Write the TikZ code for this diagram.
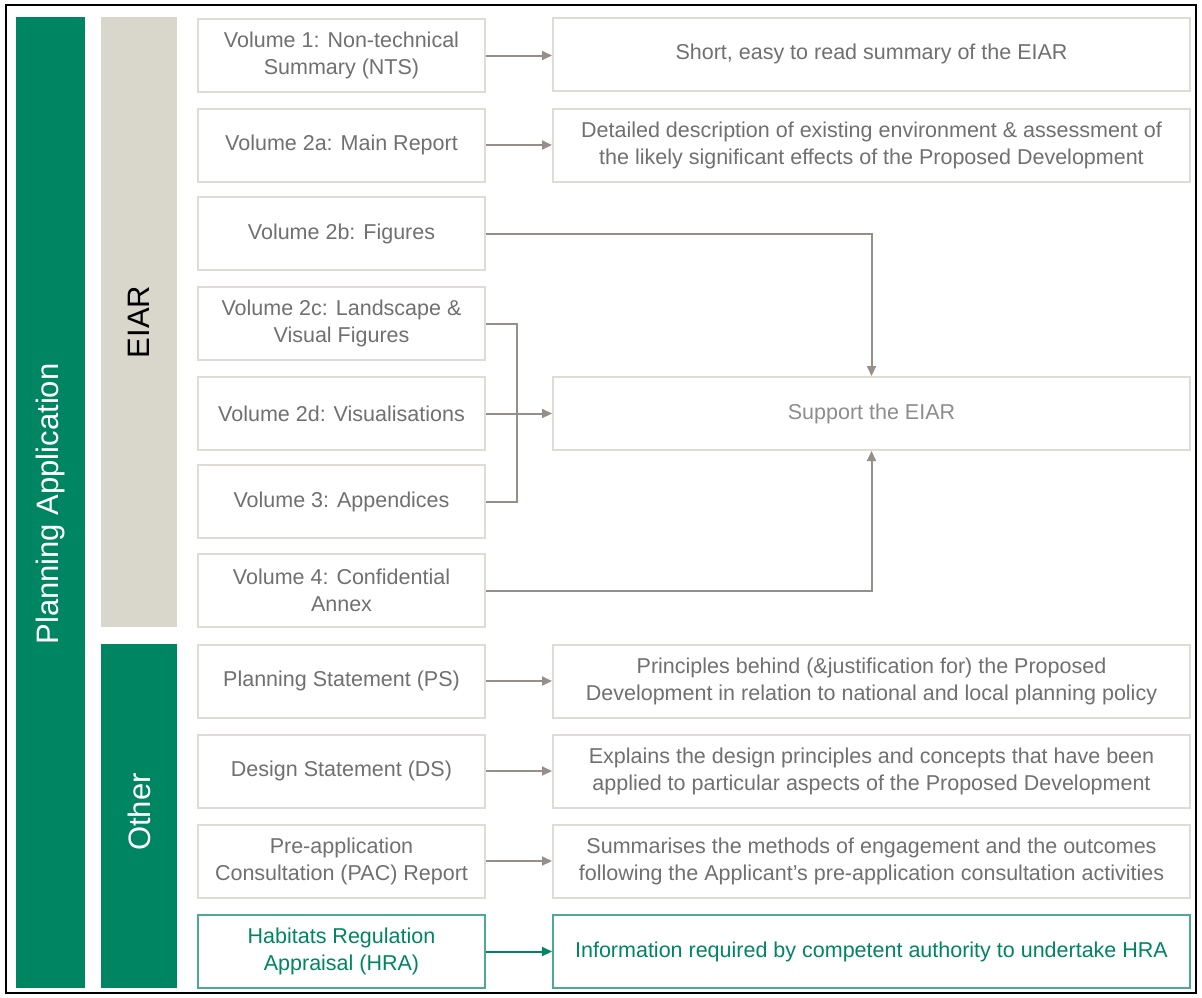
\documentclass[tikz,border=0pt]{standalone}
\usepackage{fontspec}
\setmainfont{Liberation Sans}
\usetikzlibrary{arrows.meta}
\definecolor{pgreen}{RGB}{0,133,98}
\definecolor{pgray}{RGB}{217,214,204}
\definecolor{bline}{RGB}{222,220,212}
\definecolor{tgray}{RGB}{112,112,112}
\definecolor{agray}{RGB}{150,142,136}
\begin{document}
\begin{tikzpicture}[x=1pt,y=-1pt,
  lbox/.style={draw=bline, line width=2pt, fill=white, minimum width=287pt, minimum height=73pt, align=center, text=tgray, font=\fontsize{21.5}{27}\selectfont, inner sep=0pt},
  rbox/.style={lbox, minimum width=637pt},
  hbox/.style={lbox, draw=pgreen!70, text=pgreen},
  hrbox/.style={rbox, draw=pgreen!70, text=pgreen},
  conn/.style={draw=agray, line width=2pt, -{Triangle[length=10pt,width=9pt]}},
  line/.style={draw=agray, line width=2pt}]
\useasboundingbox (0,0) rectangle (1202,997);
\draw[line width=2pt] (6,5) rectangle (1196,993);
% side bars
\fill[pgreen] (16,17) rectangle (85,988);
\fill[pgray] (101,17) rectangle (177,627);
\fill[pgreen] (101,644) rectangle (177,988);
\node[rotate=90, text=white, font=\fontsize{31}{34}\selectfont] (pa) at (50.5,504) {Planning Application};
\node[rotate=90, text=black, font=\fontsize{31}{34}\selectfont] (ei) at (139,322) {EIAR};
\node[rotate=90, text=white, font=\fontsize{31}{34}\selectfont] (ot) at (139,812) {Other};
% left boxes
\node[lbox] (v1) at (341.5,55.5) {Volume 1: Non-technical\\Summary (NTS)};
\node[lbox] (v2a) at (341.5,145) {Volume 2a: Main Report};
\node[lbox] (v2b) at (341.5,233.5) {Volume 2b: Figures};
\node[lbox] (v2c) at (341.5,323.5) {Volume 2c: Landscape \&\\Visual Figures};
\node[lbox] (v2d) at (341.5,413.5) {Volume 2d: Visualisations};
\node[lbox] (v3) at (341.5,501.5) {Volume 3: Appendices};
\node[lbox] (v4) at (341.5,590.5) {Volume 4: Confidential\\Annex};
\node[lbox] (ps) at (341.5,681) {Planning Statement (PS)};
\node[lbox] (ds) at (341.5,771) {Design Statement (DS)};
\node[lbox] (pac) at (341.5,861) {Pre-application\\Consultation (PAC) Report};
\node[hbox] (hra) at (341.5,951.5) {Habitats Regulation\\Appraisal (HRA)};
% right boxes
\node[rbox] (r1) at (871.5,54) {Short, easy to read summary of the EIAR};
\node[rbox] (r2a) at (871.5,145) {Detailed description of existing environment \& assessment of\\the likely significant effects of the Proposed Development};
\node[rbox, text=tgray!80] (sup) at (871.5,413.5) {Support the EIAR};
\node[rbox] (rps) at (871.5,681) {Principles behind (\&justification for) the Proposed\\Development in relation to national and local planning policy};
\node[rbox] (rds) at (871.5,771) {Explains the design principles and concepts that have been\\applied to particular aspects of the Proposed Development};
\node[rbox] (rpac) at (871.5,861) {Summarises the methods of engagement and the outcomes\\following the Applicant’s pre-application consultation activities};
\node[hrbox] (rhra) at (871.5,951.5) {Information required by competent authority to undertake HRA};
% connectors
\draw[conn] (v1.east) -- (r1.west |- v1.east);
\draw[conn] (v2a.east) -- (r2a.west);
\draw[conn] (v2b.east) -| (sup.north);
\draw[conn] (v4.east) -| (sup.south);
\coordinate (br) at (517,0);
\draw[line] (v2c.east) -| (br |- v3.east) -- (v3.east);
\draw[conn] (v2d.east) -- (sup.west);
\draw[conn] (ps.east) -- (rps.west);
\draw[conn] (ds.east) -- (rds.west);
\draw[conn] (pac.east) -- (rpac.west);
\draw[conn, draw=pgreen, -{Triangle[length=10pt,width=9pt,fill=pgreen]}] (hra.east) -- (rhra.west);
\end{tikzpicture}
\end{document}
